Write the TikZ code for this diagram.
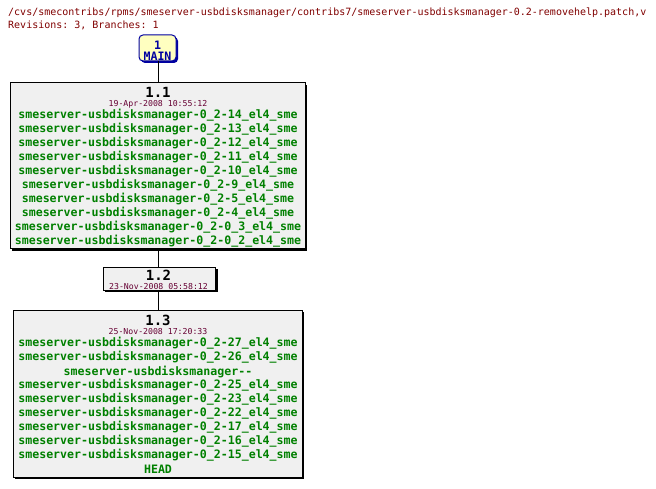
\documentclass[tikz,border=0pt]{standalone}
\usepackage{fontspec}
\setmonofont{DejaVu Sans Mono}
\definecolor{hdr}{RGB}{128,0,0}
\definecolor{dat}{RGB}{102,0,51}
\definecolor{grn}{RGB}{0,128,0}
\definecolor{boxfill}{RGB}{240,240,240}
\definecolor{mainfill}{RGB}{255,255,192}
\definecolor{mainblue}{RGB}{0,0,160}
\tikzset{
  rev/.style={draw=black, fill=boxfill, line width=1pt, inner sep=0pt,
    drop shadow/.style={}},
  shadowbox/.style={fill=black, inner sep=0pt, draw=none},
  hdrtext/.style={inner sep=0pt, anchor=west, text=hdr, font=\fontsize{10}{12}\selectfont\ttfamily},
  revnum/.style={inner sep=0pt, font=\fontsize{14}{16}\selectfont\ttfamily\bfseries},
  datetext/.style={inner sep=0pt, text=dat, font=\fontsize{8.2}{10}\selectfont\ttfamily},
  tagtext/.style={inner sep=0pt, text=grn, font=\fontsize{11.6}{14}\selectfont\ttfamily\bfseries},
  maintext/.style={inner sep=0pt, text=mainblue, font=\fontsize{11.6}{14}\selectfont\ttfamily\bfseries},
  link/.style={draw=black, line width=1pt}
}
\begin{document}
\begin{tikzpicture}[x=1pt,y=-1pt]
\useasboundingbox (0,0) rectangle (656,489);
% header
\node[hdrtext] (h1) at (8,12.7) {/cvs/smecontribs/rpms/smeserver-usbdisksmanager/contribs7/smeserver-usbdisksmanager-0.2-removehelp.patch,v};
\node[hdrtext] (h2) at (8,25) {Revisions: 3, Branches: 1};
% MAIN box
\fill[mainblue, rounded corners=4pt] (141,37) rectangle (178,63);
\draw[fill=mainfill, draw=mainblue, line width=1pt, rounded corners=4pt] (139,35) rectangle (176,61);
\coordinate (mainbot) at (158.5,61);
\node[maintext] (mainn) at (157.5,45) {1};
\node[maintext] (mainl) at (157.5,56.7) {MAIN};
% box 1.1
\fill[black] (12,85) rectangle (307,251);
\draw[fill=boxfill, line width=1pt] (10,83) rectangle (305,249);
\coordinate (b1top) at (158.5,83);
\coordinate (b1bot) at (158.5,249);
\node[revnum] (r11) at (158,92.7) {1.1};
\node[datetext] (d11) at (158,104) {19-Apr-2008 10:55:12};
\foreach \t [count=\i from 0] in {
 smeserver-usbdisksmanager-0\_2-14\_el4\_sme,
 smeserver-usbdisksmanager-0\_2-13\_el4\_sme,
 smeserver-usbdisksmanager-0\_2-12\_el4\_sme,
 smeserver-usbdisksmanager-0\_2-11\_el4\_sme,
 smeserver-usbdisksmanager-0\_2-10\_el4\_sme,
 smeserver-usbdisksmanager-0\_2-9\_el4\_sme,
 smeserver-usbdisksmanager-0\_2-5\_el4\_sme,
 smeserver-usbdisksmanager-0\_2-4\_el4\_sme,
 smeserver-usbdisksmanager-0\_2-0\_3\_el4\_sme,
 smeserver-usbdisksmanager-0\_2-0\_2\_el4\_sme}
 \node[tagtext] (t11-\i) at (158,115.5+14*\i) {\t};
% box 1.2
\fill[black] (105,269) rectangle (217.5,292);
\draw[fill=boxfill, line width=1pt] (103,267) rectangle (215.5,290);
\coordinate (b2top) at (158.5,267);
\coordinate (b2bot) at (158.5,290);
\node[revnum] (r12) at (158.5,275.7) {1.2};
\node[datetext] (d12) at (158.5,287) {23-Nov-2008 05:58:12};
% box 1.3
\fill[black] (15,312) rectangle (304,479);
\draw[fill=boxfill, line width=1pt] (13,310) rectangle (302,477);
\coordinate (b3top) at (158.5,310);
\node[revnum] (r13) at (158,320.7) {1.3};
\node[datetext] (d13) at (158,331.7) {25-Nov-2008 17:20:33};
\foreach \t [count=\i from 0] in {
 smeserver-usbdisksmanager-0\_2-27\_el4\_sme,
 smeserver-usbdisksmanager-0\_2-26\_el4\_sme,
 smeserver-usbdisksmanager--,
 smeserver-usbdisksmanager-0\_2-25\_el4\_sme,
 smeserver-usbdisksmanager-0\_2-23\_el4\_sme,
 smeserver-usbdisksmanager-0\_2-22\_el4\_sme,
 smeserver-usbdisksmanager-0\_2-17\_el4\_sme,
 smeserver-usbdisksmanager-0\_2-16\_el4\_sme,
 smeserver-usbdisksmanager-0\_2-15\_el4\_sme,
 HEAD}
 \node[tagtext] (t13-\i) at (158,343.5+14*\i) {\t};
% links
\draw[link] (mainbot) -- (b1top);
\draw[link] (b1bot) -- (b2top);
\draw[link] (b2bot) -- (b3top);
\end{tikzpicture}
\end{document}
